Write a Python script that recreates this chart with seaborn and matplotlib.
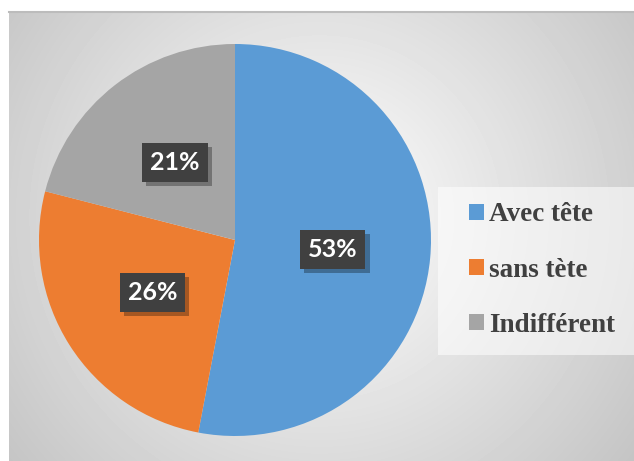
import numpy as np
import matplotlib
matplotlib.use("Agg")
import matplotlib.pyplot as plt
import matplotlib.patheffects as pe
from matplotlib.patches import Rectangle
import seaborn as sns

# Données du graphique
categories = ["Avec tête", "sans tète", "Indifférent"]
pourcentages = [53, 26, 21]
couleurs = ["#5B9BD5", "#ED7D31", "#A5A5A5"]

sns.set_style("white")

W, H = 634, 461
fig = plt.figure(figsize=(W / 100, H / 100), dpi=100)
fig.patch.set_facecolor("white")

# Fond en dégradé radial (blanc au centre, gris sur les bords)
ax_bg = fig.add_axes([9 / W, 0, (W - 9) / W, (H - 12) / H])
yy, xx = np.mgrid[0:449, 0:625]
d = np.hypot(xx - 310, yy - 205) / 380.0
fond = np.clip(1.0 - 0.22 * d, 0, 1)
ax_bg.imshow(fond, cmap="gray", vmin=0, vmax=1, aspect="auto", interpolation="bilinear")
ax_bg.set_xticks([])
ax_bg.set_yticks([])
for side, spine in ax_bg.spines.items():
    spine.set_visible(side in ("top",))
    spine.set_color("#bcbcbc")
    spine.set_linewidth(1.5)

# Camembert
cx, cy, r = 235, 240, 196
ax = fig.add_axes([(cx - r) / W, (H - cy - r) / H, 2 * r / W, 2 * r / H])
ax.set_facecolor("none")
wedges, _, autotexts = ax.pie(
    pourcentages,
    colors=couleurs,
    startangle=90,
    counterclock=False,
    autopct=lambda p: f"{p:.0f}%",
    pctdistance=0.5,
    radius=1,
    wedgeprops=dict(linewidth=0),
)
ax.set_xlim(-1, 1)
ax.set_ylim(-1, 1)
ax.set_aspect("equal")
ax.axis("off")

for t in autotexts:
    t.set_fontfamily("Lato")
    t.set_fontweight("bold")
    t.set_fontsize(18)
    t.set_color("white")
    t.set_bbox(dict(boxstyle="square,pad=0.32", fc="#404040", ec="none"))
    t.get_bbox_patch().set_path_effects(
        [pe.SimplePatchShadow(offset=(3, -3), shadow_rgbFace="black", alpha=0.3), pe.Normal()]
    )

# Cadre de la légende
fig.add_artist(Rectangle((438 / W, 1 - 355 / H), (W - 438) / W, 168 / H,
                         transform=fig.transFigure, facecolor="white",
                         alpha=0.55, edgecolor="none"))

# Légende
leg = fig.legend(
    wedges,
    categories,
    loc="center left",
    bbox_to_anchor=(469 / W, 1 - 270 / H),
    frameon=False,
    prop=dict(family="Liberation Serif", weight="bold", size=19.5),
    handlelength=0.54,
    handleheight=0.54,
    handletextpad=0.2,
    labelspacing=1.12,
    borderpad=0,
    borderaxespad=0,
)
for txt in leg.get_texts():
    txt.set_color("#404040")

fig.savefig("out.png", dpi=100)
